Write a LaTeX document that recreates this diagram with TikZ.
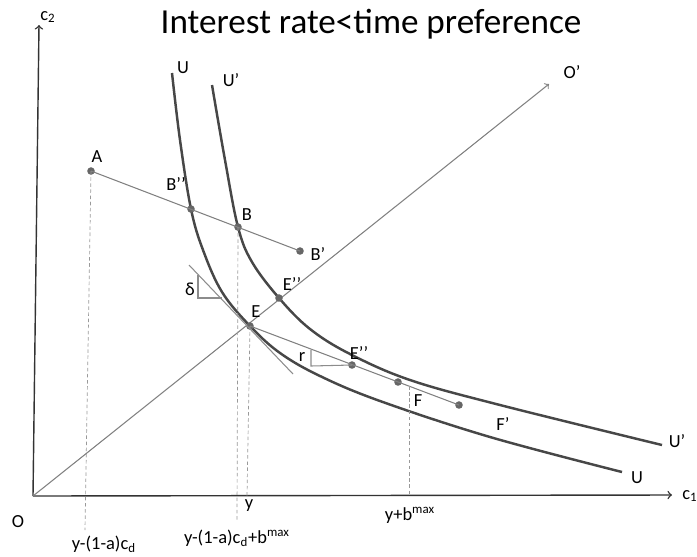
\documentclass[tikz,border=0pt]{standalone}
\usepackage{fontspec}
\setmainfont{Carlito}
\usetikzlibrary{positioning}

\begin{document}
\begin{tikzpicture}
    [x=0.02cm, y=-0.02cm,
    axis/.style={draw=black!80, line width=0.8pt, ->},
    ray/.style={draw=black!50, line width=0.6pt, ->},
    indiff/.style={draw=black!72, line width=1.4pt},
    budget/.style={draw=black!50, line width=0.6pt},
    guide/.style={draw=black!40, line width=0.4pt, dash pattern=on 2pt off 1.5pt},
    slope/.style={draw=black!45, line width=0.6pt},
    dot/.style={circle, fill=black!60, inner sep=0pt, minimum size=4.3pt},
    lbl/.style={font=\fontsize{10.5}{12}\selectfont, inner sep=0pt}]
    \useasboundingbox (0,0) rectangle (697,556);

    \node[font=\fontsize{20}{24}\selectfont, anchor=base] (title) at (371,33) {Interest rate<time preference};

    \coordinate (O) at (33,496);
    \coordinate (c2end) at (39,25);
    \coordinate (c1end) at (672,495);
    \coordinate (Oend) at (549,84);
    \draw[axis] (O) -- (c2end);
    \draw[axis] (O) -- (c1end);
    \draw[ray] (O) -- (Oend);

    \draw[indiff] plot[smooth, tension=0.6] coordinates {(172,73) (180,140) (191,209) (203,250) (222,292) (250,326) (280,353) (320,376) (380,401) (490,437) (622,472)};
    \draw[indiff] plot[smooth, tension=0.6] coordinates {(212,85) (225,160) (238,227) (252,262) (279,298) (310,329) (350,354) (410,380) (500,405) (662,445)};

    \node[dot] (A) at (91,171) {};
    \node[dot] (B2) at (191,209) {};
    \node[dot] (B) at (238,227) {};
    \node[dot] (B1) at (300,251) {};
    \node[dot] (E) at (250,326) {};
    \node[dot] (E2) at (279,298) {};
    \node[dot] (E3) at (352,365) {};
    \node[dot] (F) at (398,382) {};
    \node[dot] (F1) at (459,405) {};

    \draw[budget] (A.center) -- (B1.center);
    \draw[budget] (E.center) -- (F1.center);

    \coordinate (T1) at (189,265);
    \coordinate (T2) at (293,374);
    \draw[slope] (T1) -- (T2);
    \draw[slope] (198,275) -- (198,298) -- (222,298);
    \draw[slope] (311,350) -- (311,366) -- (E3.center);

    \coordinate (Afoot) at (85,530);
    \coordinate (Bfoot) at (237,522);
    \coordinate (Efoot) at (247,496);
    \coordinate (Ftop) at (409,386);
    \coordinate (Ffoot) at (409,496);
    \draw[guide] (A.center) -- (Afoot);
    \draw[guide] (B.center) -- (Bfoot);
    \draw[guide] (E.center) -- (Efoot);
    \draw[guide] (Ftop) -- (Ffoot);

    \node[lbl] (c2) at (48,17) {c\textsubscript{2}};
    \node[lbl] (c1) at (690,496) {c\textsubscript{1}};
    \node[lbl] (Olbl) at (18,522) {O};
    \node[lbl] (Oplbl) at (572,72) {O’};
    \node[lbl] (Utop) at (183,68) {U};
    \node[lbl] (Uptop) at (231,80) {U’};
    \node[lbl] (Uright) at (637,478) {U};
    \node[lbl] (Upright) at (677,441) {U’};
    \node[lbl] (Albl) at (97,157) {A};
    \node[lbl] (B2lbl) at (176,184) {B’’};
    \node[lbl] (Blbl) at (247,215) {B};
    \node[lbl] (B1lbl) at (318,254) {B’};
    \node[lbl] (delta) at (190,289) {δ};
    \node[lbl] (Elbl) at (256,312) {E};
    \node[lbl] (E2lbl) at (292,284) {E’’};
    \node[lbl] (rlbl) at (302,357) {r};
    \node[lbl] (E3lbl) at (359,353) {E’’};
    \node[lbl] (Flbl) at (418,401) {F};
    \node[lbl] (F1lbl) at (503,424) {F’};
    \node[lbl] (ylbl) at (249,506) {y};
    \node[lbl] (ycd) at (104,544) {y-(1-a)c\textsubscript{d}};
    \node[lbl] (ycdb) at (237,538) {y-(1-a)c\textsubscript{d}+b\textsuperscript{max}};
    \node[lbl] (yb) at (410,515) {y+b\textsuperscript{max}};
\end{tikzpicture}
\end{document}
